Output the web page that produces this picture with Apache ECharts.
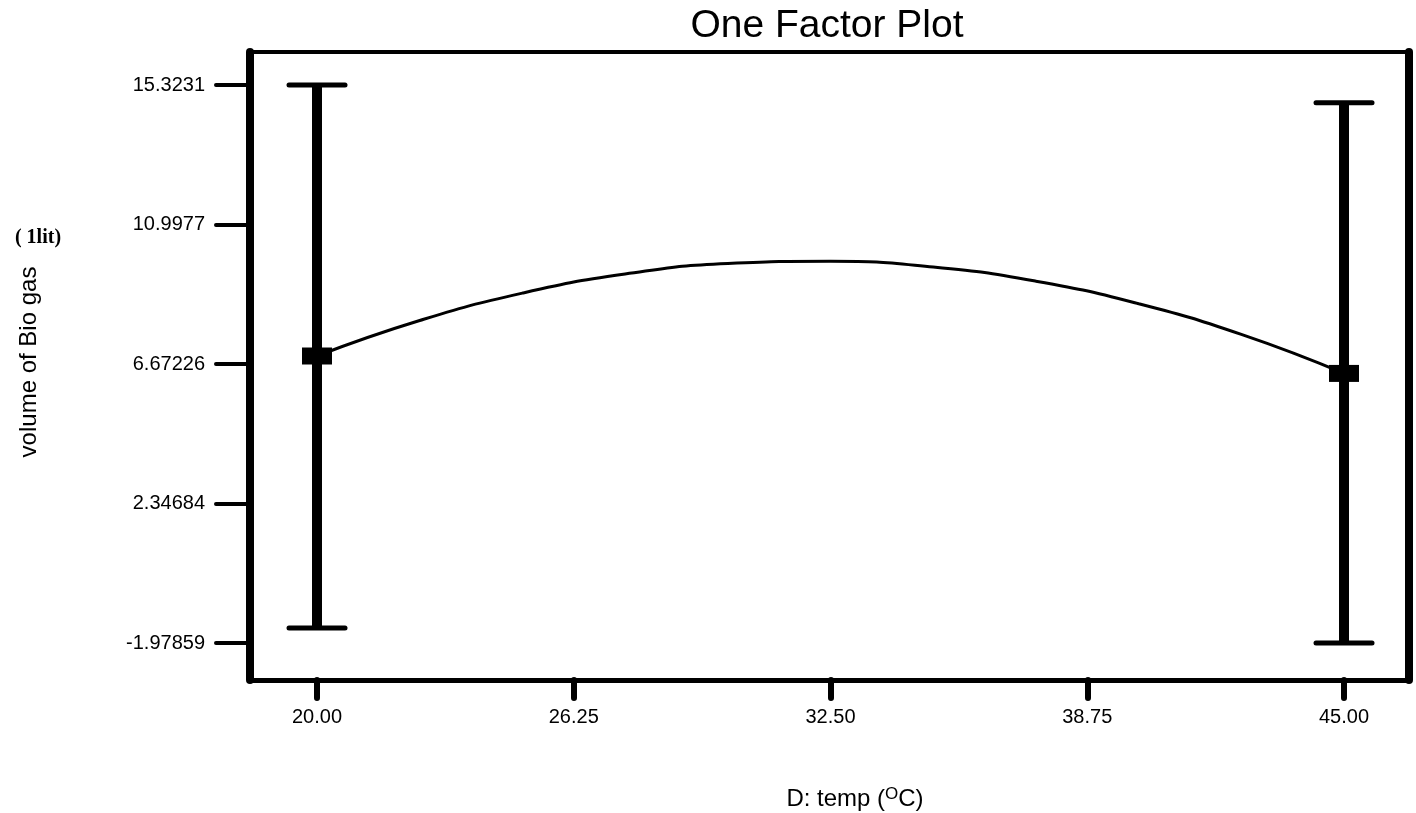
<!DOCTYPE html>
<html>
<head>
<meta charset="utf-8">
<script src="https://cdn.jsdelivr.net/npm/echarts@6/dist/echarts.min.js"></script>
<style>
  html, body { margin: 0; padding: 0; background: #fff; }
  #chart { width: 1416px; height: 813px; }
</style>
</head>
<body>
<div id="chart"></div>
<script>
// values
const yTickValues = [-1.97859, 2.34684, 6.67226, 10.9977, 15.3231];
const yTickLabels = ["-1.97859", "2.34684", "6.67226", "10.9977", "15.3231"];
const xTickValues = [20, 26.25, 32.5, 38.75, 45];

// fitted curve (temp, volume)
const curveTemps = [20, 22.5, 25, 27.5, 30, 32.5, 35, 37.5, 40, 42.5, 45];
const curveValues = [6.92, 8.02, 8.87, 9.46, 9.79, 9.86, 9.68, 9.24, 8.54, 7.59, 6.38];

// design points with their intervals
const pointTemps = [20, 45];
const pointValues = [6.92, 6.38];
const pointLow = [-1.51, -1.98];
const pointHigh = [15.32, 14.77];

const font = "Liberation Sans, Arial, sans-serif";
const chart = echarts.init(document.getElementById("chart"));

const xRange = { min: 18.369, max: 46.582 };
const yRange = { min: -3.126, max: 16.346 };

chart.setOption({
  animation: false,
  backgroundColor: "#fff",
  grid: { left: 250, right: 7, top: 52, bottom: 133 },
  xAxis: [
    {
      type: "value",
      ...xRange,
      axisLine: { onZero: false, lineStyle: { color: "#000", width: 5 } },
      axisTick: {
        customValues: xTickValues,
        length: 18,
        lineStyle: { color: "#000", width: 6, cap: "round" }
      },
      axisLabel: {
        customValues: xTickValues,
        formatter: (v) => v.toFixed(2),
        margin: 27,
        fontSize: 20,
        fontFamily: font,
        color: "#000"
      },
      splitLine: { show: false }
    },
    {
      type: "value",
      position: "top",
      ...xRange,
      axisLine: { onZero: false, lineStyle: { color: "#000", width: 4 } },
      axisTick: { show: false },
      axisLabel: { show: false },
      splitLine: { show: false }
    }
  ],
  yAxis: [
    {
      type: "value",
      ...yRange,
      axisLine: { onZero: false, lineStyle: { color: "#000", width: 8 } },
      axisTick: {
        customValues: yTickValues,
        length: 34,
        lineStyle: { color: "#000", width: 4, cap: "round" }
      },
      axisLabel: {
        customValues: yTickValues,
        formatter: (v) => {
          const i = yTickValues.findIndex((t) => Math.abs(t - v) < 1e-6);
          return i >= 0 ? yTickLabels[i] : "";
        },
        margin: 45,
        fontSize: 20,
        fontFamily: font,
        color: "#000"
      },
      splitLine: { show: false }
    },
    {
      type: "value",
      position: "right",
      ...yRange,
      axisLine: { onZero: false, lineStyle: { color: "#000", width: 8 } },
      axisTick: { show: false },
      axisLabel: { show: false },
      splitLine: { show: false }
    }
  ],
  graphic: [
    {
      type: "text",
      x: 827,
      y: 26,
      style: {
        text: "One Factor Plot",
        font: "39px " + font,
        fill: "#000",
        align: "center",
        verticalAlign: "middle"
      }
    },
    {
      type: "text",
      x: 29,
      y: 362,
      rotation: Math.PI / 2,
      style: {
        text: "volume of Bio gas",
        font: "24px " + font,
        fill: "#000",
        align: "center",
        verticalAlign: "middle"
      }
    },
    {
      type: "text",
      x: 38,
      y: 238,
      style: {
        text: "( 1lit)",
        font: "bold 20px Liberation Serif, serif",
        fill: "#000",
        align: "center",
        verticalAlign: "middle"
      }
    },
    {
      type: "text",
      x: 855,
      y: 799,
      style: {
        text: "D: temp ({s|O}C)",
        font: "24px " + font,
        fill: "#000",
        align: "center",
        verticalAlign: "middle",
        rich: {
          s: { fontSize: 17, fontFamily: font, verticalAlign: "top", padding: [0, 0, 9, 0] }
        }
      }
    }
  ],
  series: [
    {
      type: "line",
      smooth: true,
      symbol: "none",
      data: curveTemps.map((t, i) => [t, curveValues[i]]),
      lineStyle: { color: "#000", width: 3 },
      z: 2
    },
    {
      type: "custom",
      data: pointTemps.map((t, i) => [t, pointLow[i], pointHigh[i]]),
      renderItem: (params, api) => {
        const lo = api.coord([api.value(0), api.value(1)]);
        const hi = api.coord([api.value(0), api.value(2)]);
        const half = 28;
        const stroke = { stroke: "#000", lineCap: "round" };
        return {
          type: "group",
          children: [
            { type: "line", shape: { x1: lo[0], y1: lo[1], x2: hi[0], y2: hi[1] }, style: { ...stroke, lineWidth: 10, lineCap: "butt" } },
            { type: "line", shape: { x1: lo[0] - half, y1: lo[1], x2: lo[0] + half, y2: lo[1] }, style: { ...stroke, lineWidth: 5 } },
            { type: "line", shape: { x1: hi[0] - half, y1: hi[1], x2: hi[0] + half, y2: hi[1] }, style: { ...stroke, lineWidth: 5 } }
          ]
        };
      },
      z: 3
    },
    {
      type: "scatter",
      symbol: "rect",
      symbolSize: [30, 17],
      data: pointTemps.map((t, i) => [t, pointValues[i]]),
      itemStyle: { color: "#000", opacity: 1 },
      z: 4
    }
  ]
});
</script>
</body>
</html>
